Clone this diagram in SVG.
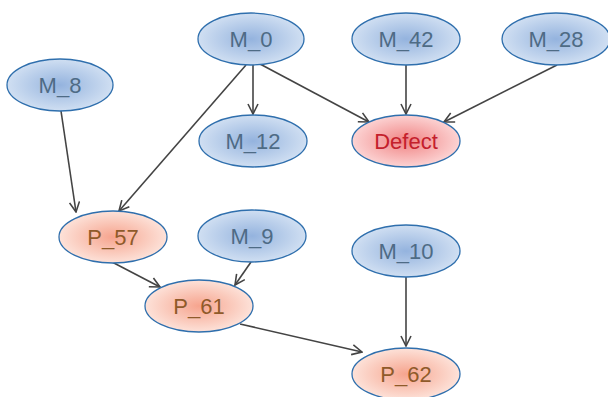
<svg xmlns="http://www.w3.org/2000/svg" width="608" height="397" viewBox="0 0 608 397">
<defs>
<radialGradient id="gb" cx="50%" cy="50%" r="50%">
<stop offset="0" stop-color="#94b3de"/>
<stop offset="1" stop-color="#d0dff2"/>
</radialGradient>
<radialGradient id="go" cx="50%" cy="50%" r="50%">
<stop offset="0" stop-color="#f6a48e"/>
<stop offset="1" stop-color="#fde2d9"/>
</radialGradient>
<radialGradient id="gr" cx="50%" cy="50%" r="50%">
<stop offset="0" stop-color="#f08383"/>
<stop offset="1" stop-color="#fcd3d3"/>
</radialGradient>
<marker id="ah" viewBox="0 0 12 12" refX="11" refY="6" markerWidth="12" markerHeight="12" markerUnits="userSpaceOnUse" orient="auto">
<path d="M1,1 L11,6 L1,11" fill="none" stroke="#444" stroke-width="1.6"/>
</marker>
<style>
ellipse{stroke:#2f6fad;stroke-width:1.3}
.b ellipse{fill:url(#gb)}
.o ellipse{fill:url(#go)}
.r ellipse{fill:url(#gr)}
text{font-family:"Liberation Sans",Arial,sans-serif;font-size:22px;text-anchor:middle;dominant-baseline:central}
.b text{fill:#4e6b85}
.o text{fill:#8f5a2a}
.r text{fill:#c4202c}
#edges line{stroke:#444;stroke-width:1.6;marker-end:url(#ah)}
</style>
</defs>
<g id="edges">
<line x1="253" y1="65" x2="253" y2="114"/>
<line x1="260" y1="64" x2="369" y2="122"/>
<line x1="246" y1="65" x2="119" y2="211"/>
<line x1="406" y1="65" x2="406" y2="114"/>
<line x1="557" y1="65" x2="444" y2="122"/>
<line x1="61" y1="111" x2="76" y2="212"/>
<line x1="112" y1="262" x2="160" y2="287"/>
<line x1="251" y1="262" x2="235" y2="285"/>
<line x1="240" y1="324" x2="362" y2="352"/>
<line x1="406" y1="277" x2="406" y2="346"/>
</g>
<g id="M_0" class="b"><ellipse cx="251" cy="39" rx="53" ry="26"/><text x="251" y="39">M_0</text></g>
<g id="M_42" class="b"><ellipse cx="406" cy="39" rx="54" ry="26"/><text x="406" y="39">M_42</text></g>
<g id="M_28" class="b"><ellipse cx="556" cy="39" rx="54" ry="26"/><text x="556" y="39">M_28</text></g>
<g id="M_8" class="b"><ellipse cx="60" cy="85" rx="53" ry="26"/><text x="60" y="85">M_8</text></g>
<g id="M_12" class="b"><ellipse cx="253" cy="141" rx="54" ry="26"/><text x="253" y="141">M_12</text></g>
<g id="Defect" class="r"><ellipse cx="406" cy="141" rx="54" ry="26"/><text x="406" y="141">Defect</text></g>
<g id="P_57" class="o"><ellipse cx="113" cy="237" rx="54" ry="26"/><text x="113" y="237">P_57</text></g>
<g id="M_9" class="b"><ellipse cx="252" cy="236" rx="54" ry="26"/><text x="252" y="236">M_9</text></g>
<g id="M_10" class="b"><ellipse cx="406" cy="251" rx="54" ry="26"/><text x="406" y="251">M_10</text></g>
<g id="P_61" class="o"><ellipse cx="199" cy="306" rx="54" ry="26"/><text x="199" y="306">P_61</text></g>
<g id="P_62" class="o"><ellipse cx="406" cy="374" rx="54" ry="26"/><text x="406" y="374">P_62</text></g>
</svg>
